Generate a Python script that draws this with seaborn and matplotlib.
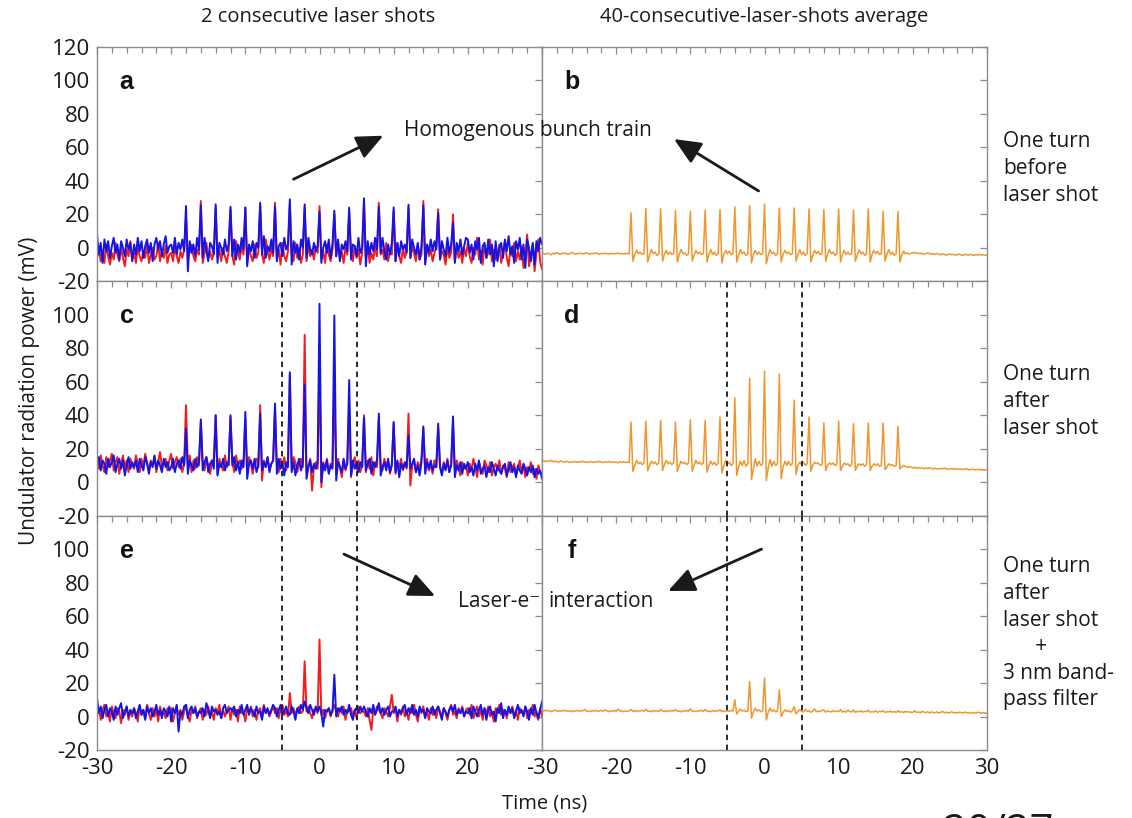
import numpy as np
import matplotlib
matplotlib.use("Agg")
import matplotlib.pyplot as plt
from matplotlib.ticker import MultipleLocator
import seaborn as sns

# scope traces, one sample every 0.25 ns from -30 ns to +30 ns (241 samples)
# each line below = one 2 ns slot of 8 samples; bunch peaks sit at the
# start of the slots from -18 ns to +18 ns. Last value is the sample at 30 ns.

# a - one turn before laser shot, 2 single shots (mV)
a_red = [
    -6, 1, -8, -2, -9, 2, -5, -10,   -3, -7, 3, -4, -8, 0, -6, -11,
    -1, -5, 4, -7, -3, -9, 1, -5,    -8, -2, -6, 2, -9, -4, 0, -7,
    -5, 3, -8, -2, -6, 1, -9, -4,
    -3, -8, 1, -5, -9, -2, -6, -1,   18, -7, -2, 2, -5, -8, -1, -4,
    28, -9, -3, 3, -6, -2, -7, -3,   24, -6, -1, -8, 0, -5, -9, -2,
    23, -5, -10, 4, -3, -7, 1, -4,
    24, -9, 0, -5, -8, 2, -6, -3,    25, -4, -9, 5, -2, -7, 0, -5,
    27, -7, -1, -10, 3, -5, -8, -2,  26, -3, -8, 3, -6, 0, -9, -4,
    24, -8, 2, -5, -1, -7, 1, -3,
    25, -6, -2, -9, 2, -4, -8, -1,   20, -5, 4, -7, -2, -9, 0, -4,
    22, -3, -8, 1, -6, -1, -10, -3,  27, -6, 2, -9, -3, -7, 1, -5,
    27, -4, -1, -7, 3, -8, -2, -4,
    22, -8, 3, -5, -9, 0, -6, -2,    24, -6, 0, -3, -8, 2, -7, -4,
    28, -9, 2, -5, -1, -8, -3, 1,    23, -7, -2, -4, -10, 1, -6, -3,
    20, -8, 1, -6, -2, -9, 0, -5,
    3, -5, -9, 0, -4, 6, -7, -2,     -10, 2, -6, -3, 5, -8, -1, -7,
    -4, 2, -9, -3, 4, -6, -11, 0,    -5, 3, -8, -2, -7, 1, -12, -4,
    8, -11, -4, 2, -14, -3, 5, -8,
    -13,
]
a_blue = [
    8, -4, 3, -9, 5, -2, 4, -6,      1, 6, -3, 2, -7, 4, 0, -5,
    5, -1, 3, -8, 2, -4, 6, -2,      4, -6, 1, 5, -3, 3, -8, 2,
    6, -1, 4, -5, 2, 7, -3, 1,
    2, -3, 6, -4, 3, -1, 5, -2,      25, -14, 4, -3, 2, -5, 6, -1,
    25.5, -6, 6, -2, -8, 3, 1, -4,   26, -9, 3, 0, -4, 5, -2, 2,
    24.6, -5, 5, -7, 2, -3, 6, -1,
    24.2, -11, 2, -2, 4, -6, 3, 0,   27, -4, 7, -6, 1, -2, 5, -3,
    24.6, -8, 1, 3, -5, 6, -1, 2,    29, -10, 4, -3, 2, -7, 5, 0,
    26, -6, 6, -1, -4, 3, -2, 1,
    21.6, -9, 0, 4, -3, 5, -6, 2,    22.2, -5, 5, -8, 2, -1, 4, -2,
    24, -7, 2, 1, -5, 6, -3, 0,      29.6, -11, 4, -4, 3, -2, 6, -1,
    24.6, -3, 6, -2, -7, 2, -4, 3,
    24.2, -8, 3, -5, 4, -1, 2, -3,   25.8, -6, 5, 0, -4, 3, -7, 1,
    25.4, -10, 2, -3, 5, -2, 4, -1,  20.6, -7, 4, -1, -5, 6, -3, 2,
    15, -9, 3, -2, 5, -4, 1, 6,
    5, -3, 2, -7, 4, -1, 6, -9,      1, 3, -6, 5, -4, 2, -11, 4,
    -8, 0, 3, -6, 5, -2, 7, -4,      1, -9, 4, -1, 6, -7, 2, -12,
    5, 0, -8, 3, -10, 4, -2, 6,
    2,
]
# b - one turn before laser shot, 40-shot average
b_avg = [
    -3, -3.4, -3.8, -3.2, -3.5, -4.2, -3.1, -3.6,   -2.8, -3.4, -3.9, -3.1, -3.5, -3.2, -3.9, -3.4,
    -2.7, -3.3, -3.9, -3.2, -3.5, -3.1, -3.7, -3.3, -2.9, -3.5, -3.8, -3.2, -3.6, -3.0, -3.4, -3.9,
    -3.3, -3.6, -3.1, -3.5, -3.8, -3.2, -3.5, -3.4,
    -3.5, -3.1, -3.6, -3.3, -3.8, -3.2, -3.5, -3.6, 21, -8, -4, -1.5, -3.5, -2.5, -4, -3.5,
    23.5, -8.5, -4.5, -1, -3.5, -2.5, -4.5, -3.5,   23.3, -8, -4, -1.5, -4, -2.5, -4, -3.5,
    22.3, -8.5, -4, -1, -3.5, -3, -4.5, -3.5,
    21.9, -8, -4.5, -1.5, -3.5, -2.5, -4, -3.5,     22.5, -8.5, -4, -1, -4, -2.5, -4.5, -3.5,
    22.9, -9, -4, -1.5, -3.5, -2, -4, -3.5,         24.5, -8.5, -4.5, -1, -3.5, -2.5, -4.5, -3.5,
    25.2, -9, -4, -1.5, -4, -2.5, -4, -3.5,
    26.2, -9.5, -4.5, -1, -3.5, -2.5, -4.5, -3.5,   23.8, -8.5, -4, -1.5, -3.5, -2.5, -4, -3.5,
    23.8, -8, -4, -1, -4, -2.5, -4.5, -3.5,         23.3, -8.5, -4.5, -1.5, -3.5, -2, -4, -3.5,
    22.9, -8, -4, -1, -3.5, -2.5, -4.5, -3.5,
    23.3, -8.5, -4, -1.5, -4, -2.5, -4, -3.5,       22.5, -8, -4.5, -1, -3.5, -2.5, -4.5, -3.5,
    23.3, -8.5, -4, -1.5, -3.5, -2, -4, -3.5,       21.9, -8, -4, -1, -4, -2.5, -4.5, -3.5,
    21.7, -8.5, -4.5, -2, -3.5, -3, -3.8, -3.2,
    -3, -2.6, -3.4, -3.1, -3.6, -3.2, -3.9, -3.5,   -3, -3.4, -3.8, -3.5, -3.9, -3.4, -3.7, -4.2,
    -3.6, -4, -4.3, -3.9, -3.6, -4.1, -3.8, -4.4,   -4.0, -3.7, -4.2, -4.5, -3.9, -4.1, -4.4, -3.8,
    -4.2, -4.6, -4.0, -4.3, -3.9, -4.4, -4.1, -4.5,
    -4,
]
# c - one turn after laser shot, 2 single shots
c_red = [
    14, 8, 16, 10, 6, 15, 9, 13,     17, 7, 12, 15, 5, 11, 16, 9,
    13, 6, 14, 10, 8, 16, 11, 6,     14, 9, 17, 12, 7, 13, 10, 15,
    6, 12, 18, 9, 11, 14, 7, 13,
    17, 8, 12, 15, 9, 14, 6, 11,     46, 9, 16, 6, 13, 8, 15, 10,
    36, 13, 7, 15, 10, 5, 12, 14,    40, 5, 14, 10, 7, 16, 9, 12,
    39, 12, 6, 16, 10, 13, 8, 11,
    38, 8, 15, 11, 5, 12, 14, 9,     46, 1, 13, 9, 15, 7, 11, 13,
    44, 10, 6, 14, 9, 15, 7, 12,     64, 8, 15, 12, 6, 11, 14, 9,
    88, 6, 10, 14, -5, 9, 12, 8,
    70, -3, 12, 8, 14, 6, 11, 9,     57, 5, 14, 9, 3, 12, 7, 13,
    45, 3, 11, 15, 8, 13, 6, 10,     40, 6, 13, 8, 15, 4, 12, 9,
    38, 11, 7, 14, 9, 13, 5, 11,
    35, 5, 12, 9, 14, 7, 11, 8,      41, -2, 10, 13, 6, 12, 8, 14,
    32, 8, 14, 7, 11, 5, 13, 9,      33, 10, 5, 12, 8, 14, 6, 11,
    36, 6, 13, 9, 4, 12, 8, 10,
    4, 11, 7, 14, 9, 3, 12, 8,       5, 13, 10, 6, 12, 4, 9, 11,
    7, 13, 5, 10, 8, 3, 12, 6,       9, 11, 4, 8, 13, 6, 10, 3,
    9, 7, 12, 5, 8, 2, 10, 6,
    5,
]
c_blue = [
    10, 15, 7, 13, 11, 5, 14, 9,     12, 16, 6, 11, 14, 8, 13, 4,
    10, 15, 8, 12, 9, 13, 6, 14,     10, 7, 15, 11, 5, 12, 9, 16,
    8, 13, 10, 6, 14, 9, 12, 7,
    9, 14, 6, 11, 13, 8, 15, 10,     32, 5, 13, 10, 7, 14, 9, 12,
    37.5, 7, 12, 15, 6, 11, 13, 8,   40, 4, 11, 9, 14, 7, 12, 10,
    40, 10, 15, 7, 12, 5, 13, 9,
    42, 2, 11, 13, 8, 14, 6, 10,     41, 7, 12, 9, 15, 6, 11, 13,
    47, 5, 14, 8, 11, 4, 12, 9,      65.7, 6, 12, 4, 10, 14, 7, 11,
    58.4, 2, 9, 13, 6, 11, 8, 12,
    106.6, 0, 11, 7, 13, 5, 10, 8,   99.6, 1, 12, 9, 6, 14, 8, 11,
    61, 4, 13, 8, 11, 6, 12, 9,      38.5, 7, 11, 14, 5, 12, 9, 13,
    41, 4, 9, 12, 7, 14, 6, 10,
    36, 6, 13, 3, 11, 8, 12, 9,      28, 8, 11, 14, 6, 10, 4, 12,
    33.3, 5, 12, 8, 13, 7, 10, 9,    35, 9, 4, 11, 7, 13, 6, 10,
    39.3, 3, 10, 7, 12, 5, 11, 8,
    12, 6, 9, 4, 11, 7, 13, 5,       8, 10, 3, 9, 6, 12, 8, 4,
    10, 7, 5, 9, 11, 4, 8, 12,       6, 9, 3, 10, 7, 5, 11, 8,
    4, 9, 6, 10, 3, 8, 5, 7,
    2,
]
# d - one turn after laser shot, 40-shot average
d_avg = [
    12.5, 12.9, 12.2, 12.8, 12.4, 13.1, 12.1, 12.6, 12.3, 11.9, 12.7, 12.2, 12.0, 12.5, 12.1, 11.7,
    12.2, 11.9, 12.4, 11.8, 12.3, 12.0, 12.6, 11.9, 12.2, 11.7, 12.4, 12.1, 11.8, 12.3, 11.9, 12.5,
    12.0, 11.7, 12.2, 11.9, 12.4, 11.8, 12.1, 11.9,
    12.0, 11.6, 12.2, 11.8, 12.3, 11.7, 12.0, 11.8, 36, 6.5, 10, 13, 11, 12, 10.5, 11.5,
    36.5, 6.8, 10, 12.5, 11, 12, 10.5, 11.5,        37, 7, 10.5, 13, 11, 12, 10.5, 11.5,
    36, 6.5, 10, 12.5, 11, 12, 10.5, 11.5,
    37.3, 6.5, 10, 13, 11, 12, 10.5, 11.5,          37, 6, 10, 12.5, 10.5, 12, 10, 11.5,
    39, 5.5, 9.5, 13, 10.5, 12, 10, 11,             50.4, 4, 9, 12.5, 10, 13, 9.5, 11,
    62, 1.5, 8, 14, 9.5, 12.5, 10, 11,
    66.4, 1, 8.5, 13.5, 9.5, 12.5, 10, 11,          64.5, 2, 9, 12.5, 10, 12.5, 10, 11,
    49, 4.5, 10, 12, 10.5, 12, 10, 11,              39, 6.5, 10, 12, 11, 11.5, 10, 10.5,
    35.5, 7, 10, 11.5, 10.5, 11.5, 10, 10.5,
    36.5, 7, 9.5, 11.5, 10.5, 11, 9.5, 10.5,        35, 7, 9.5, 11, 10, 11, 9.5, 10.5,
    35.3, 7, 9.5, 11, 10, 11, 9.5, 10,              35.3, 7.5, 9, 11, 10, 10.5, 9.5, 10,
    33.3, 8, 9, 10, 9.5, 8.8, 9.2, 9.0,
    8.5, 9.0, 8.2, 8.8, 8.3, 8.6, 8.0, 8.5,         8.1, 8.7, 8.2, 7.9, 8.4, 8.0, 7.8, 8.3,
    7.9, 8.4, 8.0, 7.7, 8.2, 7.8, 8.1, 7.6,         8.0, 7.7, 7.9, 7.5, 7.8, 8.0, 7.6, 7.4,
    7.8, 7.5, 7.3, 7.7, 7.4, 7.6, 7.2, 7.5,
    7.2,
]
# e - after laser shot + 3 nm band-pass filter, 2 single shots
e_red = [
    1, 5, -2, 4, 7, 0, 3, -3,        6, 2, -1, 5, 3, -4, 4, 1,
    6, -2, 3, 0, 5, 2, -3, 6,        1, 4, -1, 7, 2, -2, 5, 0,
    4, -3, 6, 1, 3, -1, 5, 2,
    5, -3, 2, 6, 1, 4, -2, 3,        7, 0, -3, 4, 2, 6, -1, 3,
    5, -2, 4, 1, 6, 0, 3, -2,        5, 2, 7, -1, 4, 0, 3, 6,
    -2, 5, 1, 4, -3, 6, 2, 3,
    -3, 5, 2, 6, 0, 4, -2, 3,        5, -1, 7, 2, 4, 0, 3, 6,
    2, 5, -1, 4, 7, 1, 3, 0,         14, 2, 5, 1, 4, 6, 2, 3,
    33, 3, 6, 2, -1, 4, 5, 2,
    46, 1, 4, -1, 3, 5, 0, 4,        7, 3, 0, 5, 2, 6, -2, 4,
    3, 5, 0, 4, -1, 6, 2, 3,         3, 0, 5, -2, -8, 4, 2, 6,
    4, 2, -1, 5, 3, 0, 6, 13,
    2, 5, -3, 4, 1, 6, 0, 3,         -2, 5, 2, 7, 1, -3, 4, 2,
    6, 0, 3, -2, 5, 1, 4, -1,        6, 3, 0, 5, 2, -2, 4, 7,
    1, 3, -1, 5, 2, 6, 0, 4,
    5, 1, 7, -1, 3, 6, 0, 4,         -2, 5, 2, 6, 0, 3, -3, 5,
    2, 7, 1, 4, 3, -1, 5, 2,         6, 0, 4, -2, 5, 3, 1, 6,
    -1, 4, 2, 7, 0, 3, -2, 5,
    0,
]
e_blue = [
    11, 2, 6, -1, 4, 7, 0, 5,        3, -2, 6, 1, 5, 8, -1, 3,
    6, 0, 4, 2, 5, -1, 3, 7,         1, 4, -2, 6, 2, 5, 0, 3,
    7, 1, 4, -1, 5, 3, 0, 6,
    -3, 5, 2, 7, -9, 3, 1, 6,        7, -1, 4, 6, 2, 5, 0, 3,
    2, 5, 0, 8, 4, -1, 6, 3,         4, 1, 3, -1, 5, 7, 2, 4,
    5, 3, 6, 0, 4, 2, 7, 1,
    4, 7, 1, 5, 3, 0, 6, 2,          3, -2, 6, 2, 5, 1, 4, 7,
    5, 0, 4, 7, 1, 3, 6, 2,          1, 6, 3, -2, 5, 2, 7, 4,
    9, 5, 2, 7, 4, 1, 6, 3,
    6, 2, -6, 4, 3, 5, 1, 3,         25, 0, 5, 3, 6, 1, 4, 2,
    7, 1, -2, 4, 5, 2, 6, 3,         6, 3, 0, 5, 2, 7, 1, 4,
    8, 2, 5, 1, 4, 6, 0, 3,
    3, 6, 0, 4, 2, 5, 7, 1,          5, 2, 7, 1, 4, 0, 6, 3,
    4, -1, 5, 3, 2, 6, 1, 4,         6, 2, -2, 5, 3, 0, 4, 6,
    3, 7, 1, 4, 2, 5, 0, 3,
    2, 5, -1, 6, 3, 0, 4, 7,         1, 5, -2, 4, 6, 1, 3, -3,
    5, 2, 8, -1, 4, 1, 6, 2,         5, -1, 3, 7, 2, 4, 0, 6,
    3, -2, 5, 1, 7, 2, -1, 4,
    9,
]
# f - after laser shot + 3 nm band-pass filter, 40-shot average
f_avg = [
    3.5, 3.2, 3.8, 3.3, 3.6, 2.9, 3.4, 3.9,  3.1, 3.5, 3.0, 3.7, 3.3, 3.6, 3.1, 3.4,
    2.9, 3.5, 3.2, 3.7, 3.0, 3.6, 3.3, 4.2,  3.1, 3.4, 2.9, 3.5, 3.2, 3.8, 3.0, 3.4,
    3.6, 3.1, 4.0, 3.3, 2.9, 3.5, 3.2, 3.6,
    3.0, 4.5, 3.2, 3.5, 2.8, 3.4, 3.1, 3.3,  4.2, 3.0, 3.6, 2.9, 3.5, 3.2, 3.8, 3.1,
    4.4, 3.1, 3.3, 2.8, 3.6, 3.2, 3.4, 3.0,  4.3, 3.0, 3.4, 2.9, 3.5, 3.1, 3.7, 3.2,
    4.1, 3.0, 3.3, 2.8, 3.5, 3.2, 3.6, 3.1,
    4.6, 3.1, 3.4, 2.9, 3.5, 3.2, 3.8, 3.0,  4.2, 3.0, 3.3, 2.8, 3.6, 3.1, 3.5, 3.2,
    4.1, 2.9, 3.4, 3.0, 3.5, 3.1, 3.7, 3.2,  10, 1.5, 3, 4.5, 3.2, 3.8, 2.9, 3.3,
    21, -1, 2.5, 5, 3.2, 4, 2.8, 3.4,
    23, -2, 2.5, 5, 3, 4, 2.8, 3.2,          16, 0, 2.5, 4, 3, 3.6, 2.6, 3.4,
    6, 1.5, 3, 4, 3.2, 2.8, 4.2, 3,          3.5, 2.5, 3.2, 4.5, 2.8, 3.3, 2.9, 3.6,
    3.9, 2.6, 3.4, 3.0, 2.8, 3.5, 2.9, 3.3,
    2.9, 4.1, 2.7, 3.2, 2.6, 3.8, 3.0, 2.7,  3.9, 2.5, 3.1, 2.8, 3.4, 2.6, 3.2, 2.9,
    3.8, 2.6, 3.0, 2.7, 3.3, 2.5, 3.1, 2.8,  3.6, 2.4, 2.9, 2.7, 3.2, 2.6, 3.0, 2.5,
    3.5, 2.6, 2.9, 2.4, 3.1, 2.7, 2.8, 2.5,
    2.5, 3.5, 2.4, 2.8, 2.2, 3.1, 2.6, 2.3,  2.9, 2.1, 2.7, 2.4, 2.2, 2.8, 2.0, 2.5,
    3.0, 2.3, 2.6, 2.1, 2.4, 2.8, 2.2, 2.5,  2.0, 2.6, 2.3, 2.1, 2.7, 2.2, 2.4, 1.9,
    2.5, 2.2, 2.0, 2.6, 2.3, 1.9, 2.4, 2.1,
    2,
]

col_titles = ["2 consecutive laser shots", "40-consecutive-laser-shots average"]
row_notes = [
    "One turn\nbefore\nlaser shot",
    "One turn\nafter\nlaser shot",
    "One turn\nafter\nlaser shot\n      +\n3 nm band-\npass filter",
]
letters = ["a", "b", "c", "d", "e", "f"]
x_ticks = [-30, -20, -10, 0, 10, 20, 30]
laser_window = [-5, 5]

RED = "#f21c1c"
BLUE = "#1414e6"
ORANGE = "#f0962e"
GRAY = "#8c8c8c"
INK = "#1a1a1a"

sns.set_style("white")
plt.rcParams["font.family"] = ["Open Sans", "DejaVu Sans"]
plt.rcParams["axes.unicode_minus"] = False

fig, axes = plt.subplots(3, 2, figsize=(11.32, 8.18), dpi=100)
fig.subplots_adjust(left=97 / 1132, right=987 / 1132, top=1 - 47 / 818,
                    bottom=1 - 750 / 818, wspace=0, hspace=0)

traces = [
    [(a_red, RED), (a_blue, BLUE)], [(b_avg, ORANGE)],
    [(c_red, RED), (c_blue, BLUE)], [(d_avg, ORANGE)],
    [(e_red, RED), (e_blue, BLUE)], [(f_avg, ORANGE)],
]

for k, ax in enumerate(axes.flat):
    row, col = divmod(k, 2)
    for y, c in traces[k]:
        t = np.linspace(-30, 30, len(y))
        lw = 1.4 if c != ORANGE else 1.1
        sns.lineplot(x=t, y=y, ax=ax, color=c, lw=lw, estimator=None)
    if row > 0:
        for xv in laser_window:
            ax.axvline(xv, color=INK, lw=1.3, ls=(0, (3, 2.5)), zorder=5)

    ax.set_xlim(-30, 30)
    ax.set_ylim(-20, 120)
    ax.set_xticks(x_ticks)
    ax.xaxis.set_minor_locator(MultipleLocator(2))
    ax.set_yticks(range(-20, 121 if row == 0 else 101, 20))
    ax.set_xlabel("")
    ax.set_ylabel("")
    ax.tick_params(which="both", direction="in", top=True, right=True,
                   color=GRAY, width=0.9, labelsize=16, labelcolor=INK)
    ax.tick_params(which="major", length=5)
    ax.tick_params(which="minor", length=4)
    ax.tick_params(axis="x", pad=6)
    ax.tick_params(axis="y", pad=5)
    if row < 2:
        ax.set_xticklabels([])
    elif col == 0:
        ax.set_xticklabels([str(v) for v in x_ticks[:-1]] + [""])
    if col == 1:
        ax.set_yticklabels([])
    for s in ax.spines.values():
        s.set_color(GRAY)
        s.set_linewidth(1.0)
    ax.text(-26, 99, letters[k], fontsize=18, fontweight="bold",
            family="Liberation Sans", color="#111", ha="center", va="center")

arrow = dict(arrowstyle="-|>,head_length=0.9,head_width=0.4", color=INK,
             lw=2, shrinkA=0, shrinkB=0, mutation_scale=18)
axes[0, 0].annotate("", xy=(8.6, 67), xytext=(-3.5, 41), arrowprops=arrow)
axes[0, 1].annotate("", xy=(-12.2, 65), xytext=(-0.8, 34), arrowprops=arrow)
axes[2, 0].annotate("", xy=(15.6, 72), xytext=(3.3, 97), arrowprops=arrow)
axes[2, 1].annotate("", xy=(-13, 75), xytext=(-0.4, 100), arrowprops=arrow)

fig.text(11.4, 70, "Homogenous bunch train", transform=axes[0, 0].transData,
         fontsize=15, color=INK, ha="left", va="center")
fig.text(18.7, 69, "Laser-e\u207b", transform=axes[2, 0].transData,
         fontsize=15, color=INK, ha="left", va="center")
fig.text(-29.1, 69, "interaction", transform=axes[2, 1].transData,
         fontsize=15, color=INK, ha="left", va="center")

fig.text(318 / 1132, 1 - 17 / 818, col_titles[0], fontsize=14.5, color=INK,
         ha="center", va="center")
fig.text(764 / 1132, 1 - 17 / 818, col_titles[1], fontsize=14.5, color=INK,
         ha="center", va="center")
for note, yc in zip(row_notes, [168.5, 401.5, 633.5]):
    fig.text(1003 / 1132, 1 - yc / 818, note, fontsize=15, color=INK,
             ha="left", va="center", linespacing=1.35)

fig.text(30 / 1132, 1 - 391 / 818, "Undulator radiation power (mV)",
         rotation=90, fontsize=15, color=INK, ha="center", va="center")
fig.text(545 / 1132, 1 - 803 / 818, "Time (ns)", fontsize=14.5, color=INK,
         ha="center", va="center")
# slide page number, cut by the bottom edge as on the slide
fig.text(943 / 1132, 1 - 812 / 818, "20/27", fontsize=30, color=INK,
         ha="left", va="top")

fig.savefig("out.png", dpi=100)
